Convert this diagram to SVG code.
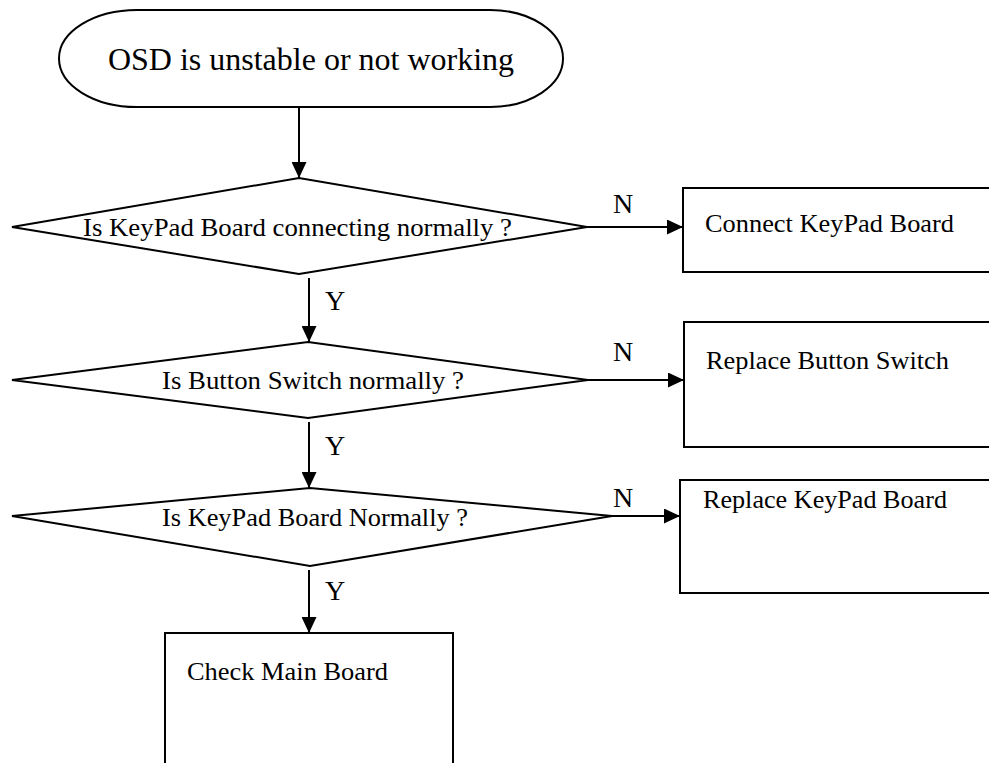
<svg xmlns="http://www.w3.org/2000/svg" width="989" height="763" viewBox="0 0 989 763">
<style>
.s{fill:#fff;stroke:#000;stroke-width:2}
.c{fill:none;stroke:#000;stroke-width:2}
text{font-family:"Liberation Serif","Times New Roman",serif;fill:#000}
.t{font-size:25px}
.l{font-size:28px}
</style>
<defs>
<marker id="ah" markerWidth="8" markerHeight="8" refX="8" refY="4" orient="auto" markerUnits="userSpaceOnUse" viewBox="0 0 8 8">
<path d="M0,0 L8,4 L0,8 Z" fill="#000"/>
</marker>
<marker id="a" viewBox="0 0 16 15" refX="16" refY="7.5" markerWidth="16" markerHeight="15" orient="auto" markerUnits="userSpaceOnUse">
<path d="M0,0 L16,7.5 L0,15 Z" fill="#000"/>
</marker>
</defs>
<rect width="989" height="763" fill="#fff"/>
<g id="start">
<path class="s" d="M137,10 H490 A73,48.5 0 0 1 490,107 H137 A78,48.5 0 0 1 137,10 Z"/>
<text x="311" y="70" font-size="32" text-anchor="middle">OSD is unstable or not working</text>
</g>
<g id="d1">
<polygon class="s" points="12,227 299,178 587,227 299,274"/>
<text class="t" x="83" y="236" textLength="429" lengthAdjust="spacingAndGlyphs">Is KeyPad Board connecting normally ?</text>
</g>
<g id="b1">
<rect class="s" x="683" y="188" width="320" height="84"/>
<text class="t" x="705" y="232" textLength="249" lengthAdjust="spacingAndGlyphs">Connect KeyPad Board</text>
</g>
<g id="d2">
<polygon class="s" points="12,380 308,342 588,380 308,418"/>
<text class="t" x="162" y="389" textLength="302" lengthAdjust="spacingAndGlyphs">Is Button Switch normally ?</text>
</g>
<g id="b2">
<rect class="s" x="684" y="322" width="320" height="125"/>
<text class="t" x="706" y="369" textLength="243" lengthAdjust="spacingAndGlyphs">Replace Button Switch</text>
</g>
<g id="d3">
<polygon class="s" points="12,516 310,488 612,516 310,566"/>
<text class="t" x="162" y="526" textLength="306" lengthAdjust="spacingAndGlyphs">Is KeyPad Board Normally ?</text>
</g>
<g id="b3">
<rect class="s" x="680" y="480" width="320" height="113"/>
<text class="t" x="703" y="508" textLength="244" lengthAdjust="spacingAndGlyphs">Replace KeyPad Board</text>
</g>
<g id="b4">
<rect class="s" x="165" y="633" width="288" height="140"/>
<text class="t" x="187" y="680" textLength="201" lengthAdjust="spacingAndGlyphs">Check Main Board</text>
</g>
<g id="connectors">
<line class="c" x1="299" y1="107" x2="299" y2="178" marker-end="url(#a)"/>
<line class="c" x1="587" y1="227" x2="683" y2="227" marker-end="url(#a)"/>
<line class="c" x1="309" y1="278" x2="309" y2="342" marker-end="url(#a)"/>
<line class="c" x1="588" y1="380" x2="684" y2="380" marker-end="url(#a)"/>
<line class="c" x1="309" y1="422" x2="309" y2="488" marker-end="url(#a)"/>
<line class="c" x1="612" y1="516" x2="680" y2="516" marker-end="url(#a)"/>
<line class="c" x1="309" y1="570" x2="309" y2="633" marker-end="url(#a)"/>
<text class="l" x="613" y="213">N</text>
<text class="l" x="613" y="361">N</text>
<text class="l" x="613" y="507">N</text>
<text class="l" x="325" y="310">Y</text>
<text class="l" x="325" y="455">Y</text>
<text class="l" x="325" y="600">Y</text>
</g>
</svg>
